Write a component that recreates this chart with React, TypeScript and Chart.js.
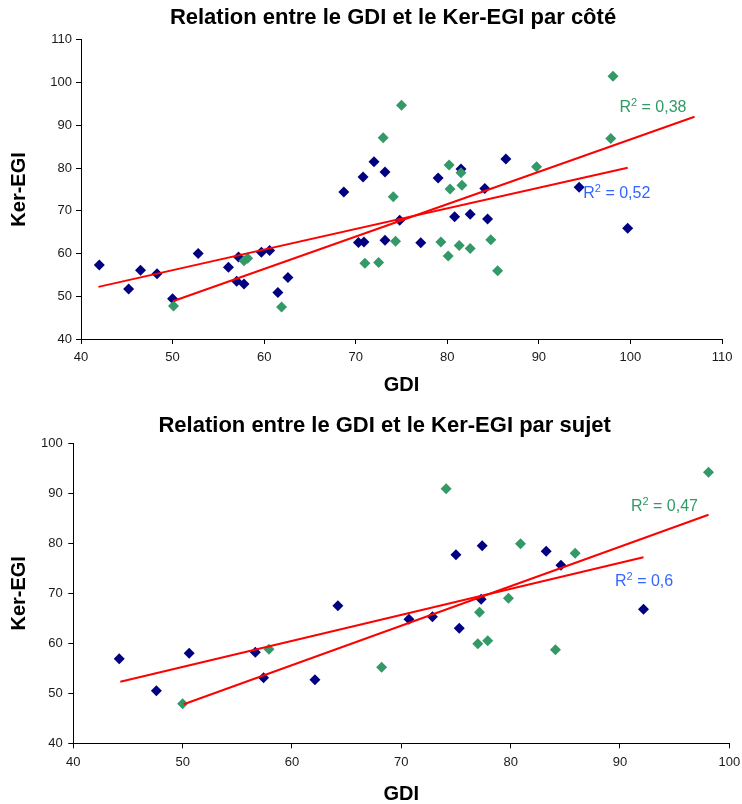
import React, { useEffect, useRef } from 'react';
import { Chart, registerables } from 'chart.js';

Chart.register(...registerables);

const FONT = '"Liberation Sans", Arial, Helvetica, sans-serif';
const NAVY = '#000080';
const GREEN = '#339966';
const RED = '#ff0000';
const BLUE_TXT = '#3366ff';

// ---- Chart 1 : par côté ----
const coteTitle = 'Relation entre le GDI et le Ker-EGI par côté';
const coteNavyGDI = [42.0, 45.2, 46.5, 48.3, 50.0, 52.8, 56.1, 57.2, 57.0, 57.8, 59.7, 60.6, 61.5, 62.6, 68.7, 70.3, 70.9, 73.2, 74.8, 77.1, 80.8, 82.5, 84.4, 84.1, 72.0, 70.8, 73.2, 79.0, 81.5, 86.4, 94.4, 99.7];
const coteNavyKer = [57.3, 51.7, 56.1, 55.3, 49.4, 60.0, 56.8, 59.2, 53.5, 52.9, 60.3, 60.7, 50.9, 54.4, 74.4, 62.6, 62.7, 63.1, 67.8, 62.5, 68.6, 69.2, 68.1, 75.2, 81.5, 77.9, 79.1, 77.7, 79.8, 82.1, 75.5, 65.9];
const coteGreenGDI = [50.1, 57.8, 58.2, 61.9, 71.0, 72.5, 74.1, 74.35, 79.3, 80.1, 81.3, 82.5, 84.75, 85.5, 80.3, 81.6, 75.0, 73.0, 80.2, 81.5, 98.1, 97.85, 89.75];
const coteGreenKer = [47.7, 58.3, 58.9, 47.5, 57.7, 57.9, 73.3, 62.9, 62.7, 59.4, 61.9, 61.2, 63.2, 56.0, 75.1, 76.0, 94.7, 87.1, 80.7, 78.9, 101.5, 86.9, 80.3];
const coteNavyTrendGDI = [41.9, 99.7];
const coteNavyTrendKer = [52.2, 80.1];
const coteGreenTrendGDI = [50.1, 107.0];
const coteGreenTrendKer = [48.9, 92.0];
const coteR2Green = '0,38';
const coteR2Navy = '0,52';

// ---- Chart 2 : par sujet ----
const sujetTitle = 'Relation entre le GDI et le Ker-EGI par sujet';
const sujetNavyGDI = [44.2, 47.6, 50.6, 56.65, 57.4, 62.1, 64.2, 70.7, 72.85, 75.3, 77.3, 75.0, 77.4, 83.25, 84.6, 92.15];
const sujetNavyKer = [56.9, 50.5, 58.0, 58.2, 53.1, 52.7, 67.5, 64.8, 65.3, 63.0, 68.8, 77.7, 79.5, 78.4, 75.6, 66.8];
const sujetGreenGDI = [50.0, 57.9, 68.2, 77.15, 77.0, 77.9, 74.1, 79.8, 80.9, 85.9, 84.1, 98.1];
const sujetGreenKer = [47.9, 58.8, 55.2, 66.2, 59.9, 60.5, 90.9, 69.0, 79.9, 78.0, 58.7, 94.2];
const sujetNavyTrendGDI = [44.3, 92.15];
const sujetNavyTrendKer = [52.3, 77.2];
const sujetGreenTrendGDI = [50.1, 98.1];
const sujetGreenTrendKer = [47.8, 85.7];
const sujetR2Green = '0,47';
const sujetR2Navy = '0,6';

const xTitle = 'GDI';
const yTitle = 'Ker-EGI';

const pts = (xs: number[], ys: number[]) => xs.map((x, i) => ({ x, y: ys[i] }));

const r2Plugin = {
  id: 'r2Labels',
  afterDatasetsDraw(chart: any, _args: any, opts: any) {
    const { ctx } = chart;
    const xs = chart.scales.x;
    const ys = chart.scales.y;
    (opts.labels || []).forEach((l: any) => {
      const px = xs.getPixelForValue(l.x);
      const py = ys.getPixelForValue(l.y);
      ctx.save();
      ctx.fillStyle = l.color;
      ctx.textAlign = 'left';
      ctx.textBaseline = 'alphabetic';
      ctx.font = `16px ${FONT}`;
      ctx.fillText('R', px, py);
      let w = ctx.measureText('R').width;
      ctx.font = `11px ${FONT}`;
      ctx.fillText('2', px + w, py - 6);
      w += ctx.measureText('2').width;
      ctx.font = `16px ${FONT}`;
      ctx.fillText(' = ' + l.text, px + w, py);
      ctx.restore();
    });
  },
};

type Spec = {
  title: string;
  navy: { x: number; y: number }[];
  green: { x: number; y: number }[];
  navyTrend: { x: number; y: number }[];
  greenTrend: { x: number; y: number }[];
  max: number;
  padLeft: number;
  padRight: number;
  rightGap: number;
  yAxisWidth: number;
  xAxisHeight: number;
  titlePad: { top: number; bottom: number };
  yTitlePadTop: number;
  xTitlePadBottom: number;
  yTickPad: number;
  labels: any[];
};

function makeConfig(s: Spec): any {
  const tickFont = { family: FONT, size: 13 };
  const axisTitleFont = { family: FONT, size: 20, weight: 'bold' };
  const scales: any = {
    x: {
      type: 'linear',
      min: 40,
      max: s.max,
      ticks: { stepSize: 10, color: '#1a1a1a', font: tickFont, padding: 6, maxRotation: 0 },
      grid: { display: true, drawOnChartArea: false, drawTicks: true, tickLength: 5, color: '#000', lineWidth: 1 },
      border: { display: true, color: '#000', width: 1 },
      title: { display: true, text: xTitle, color: '#000', font: axisTitleFont, padding: { top: 0, bottom: s.xTitlePadBottom } },
      afterFit: (sc: any) => {
        sc.height = s.xAxisHeight;
        sc.paddingLeft = 0;
        sc.paddingRight = 0;
      },
    },
    y: {
      type: 'linear',
      min: 40,
      max: s.max,
      ticks: { stepSize: 10, color: '#1a1a1a', font: tickFont, padding: s.yTickPad },
      grid: { display: true, drawOnChartArea: false, drawTicks: true, tickLength: 5, color: '#000', lineWidth: 1 },
      border: { display: true, color: '#000', width: 1 },
      title: { display: true, text: yTitle, color: '#000', font: axisTitleFont, padding: { top: s.yTitlePadTop, bottom: 0 } },
      afterFit: (sc: any) => {
        sc.width = s.yAxisWidth;
        sc.paddingTop = 0;
        sc.paddingBottom = 0;
      },
    },
  };
  if (s.rightGap > 0) {
    scales.gap = {
      type: 'linear',
      position: 'right',
      display: true,
      min: 40,
      max: s.max,
      ticks: { display: false },
      grid: { display: false, drawTicks: false },
      border: { display: false },
      title: { display: false },
      afterFit: (sc: any) => {
        sc.width = s.rightGap;
        sc.paddingTop = 0;
        sc.paddingBottom = 0;
      },
    };
  }
  return {
    type: 'scatter',
    data: {
      datasets: [
        { type: 'line', data: s.navyTrend, borderColor: RED, borderWidth: 2, pointRadius: 0, showLine: true, fill: false, order: 0 },
        { type: 'line', data: s.greenTrend, borderColor: RED, borderWidth: 2, pointRadius: 0, showLine: true, fill: false, order: 0 },
        { data: s.green, backgroundColor: GREEN, borderColor: GREEN, borderWidth: 0, pointStyle: 'rectRot', pointRadius: 5.5, order: 1 },
        { data: s.navy, backgroundColor: NAVY, borderColor: NAVY, borderWidth: 0, pointStyle: 'rectRot', pointRadius: 5.5, order: 2 },
      ],
    },
    options: {
      responsive: false,
      animation: false,
      events: [],
      layout: { padding: { left: s.padLeft, right: s.padRight, top: 0, bottom: 0 } },
      plugins: {
        legend: { display: false },
        tooltip: { enabled: false },
        title: {
          display: true,
          text: s.title,
          color: '#000',
          fullSize: true,
          font: { family: FONT, size: 22, weight: 'bold' },
          padding: s.titlePad,
        },
        r2Labels: { labels: s.labels },
      },
      scales,
    },
    plugins: [r2Plugin],
  };
}

function ChartCanvas({ spec, width, height, top }: { spec: Spec; width: number; height: number; top: number }) {
  const ref = useRef<HTMLCanvasElement | null>(null);
  useEffect(() => {
    if (!ref.current) return;
    const chart = new Chart(ref.current, makeConfig(spec));
    return () => chart.destroy();
  }, []);
  return (
    <canvas
      ref={ref}
      width={width}
      height={height}
      style={{ position: 'absolute', left: 0, top, width, height, display: 'block' }}
    />
  );
}

const coteSpec: Spec = {
  title: coteTitle,
  navy: pts(coteNavyGDI, coteNavyKer),
  green: pts(coteGreenGDI, coteGreenKer),
  navyTrend: pts(coteNavyTrendGDI, coteNavyTrendKer),
  greenTrend: pts(coteGreenTrendGDI, coteGreenTrendKer),
  max: 110,
  padLeft: 44,
  padRight: 0,
  rightGap: 20,
  yAxisWidth: 37,
  xAxisHeight: 61,
  titlePad: { top: 5, bottom: 8.5 },
  yTitlePadTop: -37,
  xTitlePadBottom: 2.5,
  yTickPad: 4,
  labels: [
    { x: 98.8, y: 93.1, text: coteR2Green, color: GREEN },
    { x: 94.85, y: 73.1, text: coteR2Navy, color: BLUE_TXT },
  ],
};

const sujetSpec: Spec = {
  title: sujetTitle,
  navy: pts(sujetNavyGDI, sujetNavyKer),
  green: pts(sujetGreenGDI, sujetGreenKer),
  navyTrend: pts(sujetNavyTrendGDI, sujetNavyTrendKer),
  greenTrend: pts(sujetGreenTrendGDI, sujetGreenTrendKer),
  max: 100,
  padLeft: 40,
  padRight: 12.7,
  rightGap: 0,
  yAxisWidth: 33.3,
  xAxisHeight: 60.7,
  titlePad: { top: 12.3, bottom: 4.6 },
  yTitlePadTop: -33,
  xTitlePadBottom: -2,
  yTickPad: 5.5,
  labels: [
    { x: 91.0, y: 86.5, text: sujetR2Green, color: GREEN },
    { x: 89.55, y: 71.5, text: sujetR2Navy, color: BLUE_TXT },
  ],
};

export default function App() {
  return (
    <div style={{ position: 'absolute', left: 0, top: 0, width: 742, height: 804, background: '#fff', overflow: 'hidden' }}>
      <ChartCanvas spec={coteSpec} width={742} height={400} top={0} />
      <ChartCanvas spec={sujetSpec} width={742} height={404} top={400} />
    </div>
  );
}
